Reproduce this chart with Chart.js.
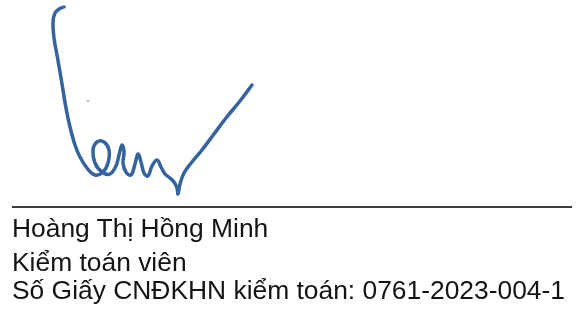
<!DOCTYPE html>
<html lang="vi">

<head>
    <meta charset="UTF-8">
    <title>Chữ ký kiểm toán viên</title>
    <style>
        body {
            margin: 0;
            padding: 0;
            background-color: #fff;
            width: 576px;
            height: 309px;
            overflow: hidden;
            position: relative;
            font-family: "Liberation Sans", Arial, sans-serif;
        }

        #sigChart {
            position: absolute;
            left: 0;
            top: 0;
        }

        .line {
            position: absolute;
            left: 12px;
            font-size: 26.4px;
            color: #141414;
            white-space: nowrap;
            line-height: 1;
        }
    </style>
</head>

<body>
    <canvas id="sigChart" width="576" height="309"></canvas>
    <div class="line" style="top: 215px;">Hoàng Thị Hồng Minh</div>
    <div class="line" style="top: 249px;">Kiểm toán viên</div>
    <div class="line" style="top: 277px;">Số Giấy CNĐKHN kiểm toán: 0761-2023-004-1</div>

    <script src="https://cdn.jsdelivr.net/npm/chart.js"></script>
    <script>
        // nét chữ ký (toạ độ đọc từ ảnh, y tính từ trên xuống)
        const strokeX = [64, 59, 55, 53, 54, 57, 60, 63, 66, 70, 75, 80, 87, 95, 103, 108, 109, 104, 97, 93, 95, 102, 110, 116, 119, 122, 124, 123, 126, 131, 135, 138, 141, 144, 148, 152, 157, 161, 165, 170, 174, 177, 178, 180, 184, 192, 202, 214, 226, 240, 252];
        const strokeY = [7, 9, 13, 22, 38, 55, 72, 90, 108, 127, 145, 157, 168, 175, 172, 163, 150, 142, 142, 150, 163, 172, 174, 166, 155, 145, 152, 163, 172, 175, 164, 154, 162, 173, 176, 166, 160, 167, 174, 178, 182, 188, 194, 184, 173, 162, 150, 134, 118, 101, 85];
        // dấu chấm nhỏ
        const dotX = [88];
        const dotY = [101];
        // đường kẻ ngang
        const ruleX = [12, 572];
        const ruleY = [207, 207];

        const toPoints = (xs, ys) => xs.map((x, i) => ({ x: x, y: ys[i] }));

        const ctx = document.getElementById('sigChart').getContext('2d');
        const sigChart = new Chart(ctx, {
            type: 'scatter',
            data: {
                datasets: [{
                    label: 'Chữ ký',
                    data: toPoints(strokeX, strokeY),
                    showLine: true,
                    borderColor: '#3463a0',
                    borderWidth: 3.5,
                    tension: 0.4,
                    pointRadius: 0,
                    borderCapStyle: 'round',
                    borderJoinStyle: 'round'
                }, {
                    label: 'Chấm',
                    data: toPoints(dotX, dotY),
                    pointRadius: 1,
                    backgroundColor: '#8a9ab0',
                    borderWidth: 0
                }, {
                    label: 'Kẻ ngang',
                    data: toPoints(ruleX, ruleY),
                    showLine: true,
                    borderColor: '#3c3c3c',
                    borderWidth: 2,
                    pointRadius: 0
                }]
            },
            options: {
                responsive: false,
                animation: false,
                layout: { padding: 0, autoPadding: false },
                plugins: {
                    legend: { display: false },
                    tooltip: { enabled: false }
                },
                scales: {
                    x: { type: 'linear', min: 0, max: 576, display: false },
                    y: { type: 'linear', min: 0, max: 309, reverse: true, display: false }
                }
            }
        });
    </script>
</body>

</html>
